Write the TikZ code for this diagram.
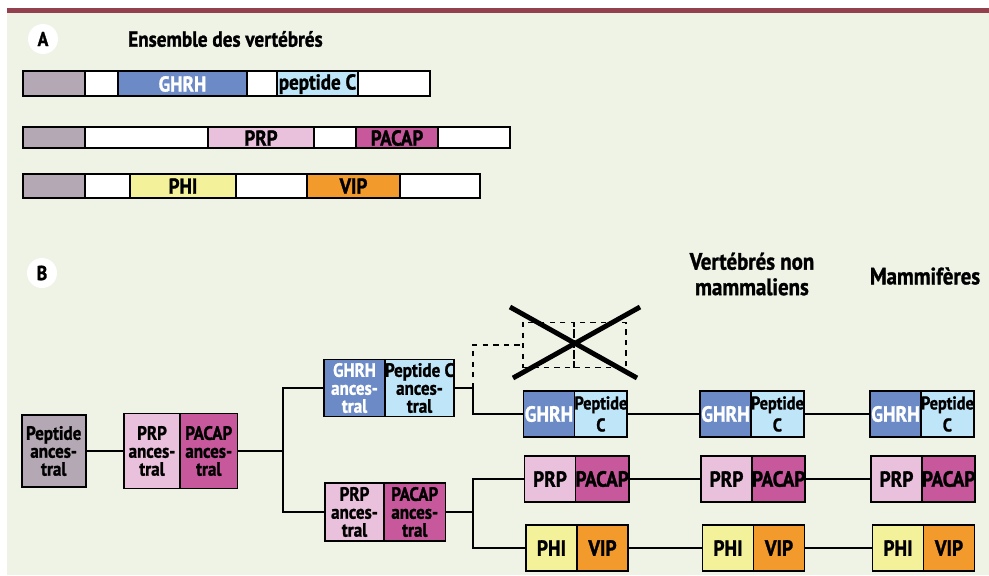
\documentclass[tikz,border=0pt]{standalone}
\usepackage{fontspec}
\setmainfont{PT Sans}[FakeStretch=0.88,BoldFeatures={FakeBold=1.2}]
\usetikzlibrary{positioning}
\definecolor{bgreen}{HTML}{EEF3E6}
\definecolor{topred}{HTML}{94414F}
\definecolor{pgray}{HTML}{B3A8B3}
\definecolor{ghrh}{HTML}{6B8AC6}
\definecolor{pepc}{HTML}{BEE6F8}
\definecolor{prp}{HTML}{E9C1DC}
\definecolor{pacap}{HTML}{C6589B}
\definecolor{phi}{HTML}{F4F19B}
\definecolor{vip}{HTML}{F39A2D}
\tikzstyle{seg}=[draw=black,line width=1.1pt]
\tikzstyle{seglbl}=[inner sep=0,font=\bfseries\fontsize{12.3}{13}\selectfont]
\tikzstyle{cell}=[rectangle,draw=black,line width=1.1pt,outer sep=0,inner sep=0,minimum width=1.02cm,minimum height=0.92cm,align=center,font=\bfseries\fontsize{12.5}{13}\selectfont]
\tikzstyle{pepcell}=[cell,fill=pepc,font=\bfseries\fontsize{10.5}{12.5}\selectfont]
\tikzstyle{anc}=[rectangle,draw=black,line width=1.1pt,outer sep=0,inner sep=0,align=center,font=\bfseries\fontsize{11}{10.2}\selectfont]
\tikzstyle{ghost}=[rectangle,draw=black,dashed,line width=1pt,outer sep=0,minimum width=1.03cm,minimum height=0.9cm]
\tikzstyle{link}=[line width=1pt]
\tikzstyle{letter}=[circle,fill=white,minimum size=0.6cm,inner sep=0,font=\bfseries\fontsize{11.5}{11.5}\selectfont]
\tikzstyle{title}=[align=center,font=\bfseries\fontsize{13.5}{14.5}\selectfont]
\begin{document}
\begin{tikzpicture}[x=0.02cm,y=-0.02cm]
\useasboundingbox (0,0) rectangle (989,575);
\fill[white] (0,0) rectangle (989,575);
\fill[bgreen] (7,13) rectangle (989,575);
\fill[topred] (7,8) rectangle (989,13);

\node[letter] (lettA) at (43,39) {A};
\node[title,anchor=west,font=\bfseries\fontsize{12.4}{14}\selectfont] (titleA) at (122,39) {Ensemble des vertébrés};
\foreach \a/\b/\c in {23/85/pgray,85/118/white,118/247/ghrh,247/277/white,277/358/pepc,358/430/white}
	\draw[seg,fill=\c] (\a,71) rectangle (\b,96);
\foreach \a/\b/\c in {23/85/pgray,85/208/white,208/314/prp,314/356/white,356/438/pacap,438/510/white}
	\draw[seg,fill=\c] (\a,127) rectangle (\b,148);
\foreach \a/\b/\c in {23/85/pgray,85/130/white,130/236/phi,236/307/white,307/400/vip,400/480/white}
	\draw[seg,fill=\c] (\a,174) rectangle (\b,198);
\node[seglbl,text=white] (barghrh) at (182.5,84) {GHRH};
\node[seglbl] (barpepc) at (317.5,84) {peptide C};
\node[seglbl] (barprp) at (261,138) {PRP};
\node[seglbl] (barpacap) at (397,138) {PACAP};
\node[seglbl] (barphi) at (183,186) {PHI};
\node[seglbl] (barvip) at (353.5,186) {VIP};

\node[letter] (lettB) at (42,273) {B};
\node[title] (nonmam) at (752,274) {Vertébrés non\\mammaliens};
\node[title] (mam) at (925,276) {Mammifères};

\node[anc,fill=pgray,minimum width=1.28cm,minimum height=1.44cm] (pepAnc) at (53.7,451) {Peptide\\ances-\\tral};
\node[anc,fill=prp,minimum width=1.12cm,minimum height=1.5cm] (prpAnc) at (152,451) {PRP\\ances-\\tral};
\node[anc,fill=pacap,minimum width=1.15cm,minimum height=1.5cm,right=0pt of prpAnc] (pacapAnc) {PACAP\\ances-\\tral};
\node[anc,fill=ghrh,text=white,minimum width=1.22cm,minimum height=1.14cm] (ghrhAnc) at (354.5,388) {GHRH\\ances-\\tral};
\node[anc,fill=pepc,minimum width=1.27cm,minimum height=1.14cm,right=0pt of ghrhAnc] (pepcAnc) {Peptide C\\ances-\\tral};
\node[anc,fill=prp,minimum width=1.18cm,minimum height=1.16cm] (prpAnc2) at (354.5,512) {PRP\\ances-\\tral};
\node[anc,fill=pacap,minimum width=1.23cm,minimum height=1.16cm,right=0pt of prpAnc2] (pacapAnc2) {PACAP\\ances-\\tral};

\node[ghost] (ghostL) at (548.5,345) {};
\node[ghost,right=0pt of ghostL] (ghostR) {};

\foreach \k/\x in {1/549,2/725.5,3/895.5}{
	\node[cell,fill=ghrh,text=white] (ghrh\k) at (\x,414) {GHRH};
	\node[pepcell,right=0pt of ghrh\k] (pepc\k) {Peptide\\C};
	\node[cell,fill=prp] (prp\k) at (\x+1,479) {PRP};
	\node[cell,fill=pacap,right=0pt of prp\k] (pacap\k) {PACAP};
	\node[cell,fill=phi] (phi\k) at (\x+2.5,548) {PHI};
	\node[cell,fill=vip,right=0pt of phi\k] (vip\k) {VIP};
}

\coordinate (fork1) at (283,451);
\coordinate (fork2) at (473,388);
\coordinate (fork3) at (473,512);
\draw[link] (pepAnc.east) -- (prpAnc.west);
\draw[link] (pacapAnc.east) -- (fork1);
\draw[link] (ghrhAnc.west) -| (fork1) |- (prpAnc2.west);
\draw[link] (pepcAnc.east) -- (fork2) |- (ghrh1.west);
\draw[link,dashed] (fork2) |- (ghostL.west);
\draw[link] (pacapAnc2.east) -- (fork3);
\draw[link] (prp1.west) -| (fork3) |- (phi1.west);
\draw[link] (pepc1.east) -- (ghrh2.west);
\draw[link] (pepc2.east) -- (ghrh3.west);
\draw[link] (pacap1.east) -- (prp2.west);
\draw[link] (pacap2.east) -- (prp3.west);
\draw[link] (vip1.east) -- (phi2.west);
\draw[link] (vip2.east) -- (phi3.west);

\draw[line width=2.8pt] (510,307) -- (637,378) (640,307) -- (513,378);
\end{tikzpicture}
\end{document}
